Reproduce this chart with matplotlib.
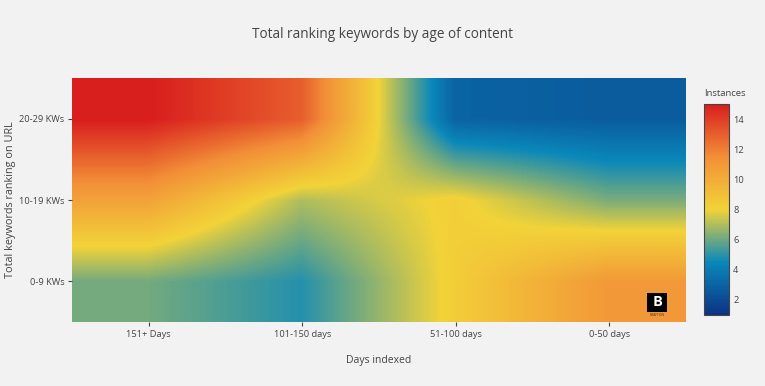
import matplotlib
matplotlib.use("Agg")
import matplotlib.pyplot as plt
import numpy as np
from matplotlib.colors import LinearSegmentedColormap
from matplotlib.patches import Rectangle

plt.rcParams['font.family'] = ['Open Sans', 'DejaVu Sans']

# columns: age of content, rows: keyword buckets (bottom to top)
dias = ["151+ Days", "101-150 days", "51-100 days", "0-50 days"]
kws = ["0-9 KWs", "10-19 KWs", "20-29 KWs"]
fila_0_9 = [6.1, 4.9, 8.3, 11.0]
fila_10_19 = [10.5, 7.0, 8.2, 6.2]
fila_20_29 = [15.0, 13.0, 3.0, 2.7]

z = np.array([fila_0_9, fila_10_19, fila_20_29])

# escala "Portland" de plotly
portland = LinearSegmentedColormap.from_list("portland", [
    (0.0, (12/255, 51/255, 131/255)),
    (0.25, (10/255, 136/255, 186/255)),
    (0.5, (242/255, 211/255, 56/255)),
    (0.75, (242/255, 143/255, 56/255)),
    (1.0, (217/255, 30/255, 30/255)),
])

gris = "#444444"
fondo = "#f2f2f2"

fig = plt.figure(figsize=(7.65, 3.86), dpi=100, facecolor=fondo)
ax = fig.add_axes([72/765, 1 - 322/386, 614/765, 244/386])
ax.set_facecolor(fondo)

im = ax.imshow(z, cmap=portland, vmin=1, vmax=15, origin="lower", aspect="auto",
               interpolation="bilinear", interpolation_stage="data",
               extent=(-0.5, len(dias) - 0.5, -0.5, len(kws) - 0.5))

ax.set_xticks(range(len(dias)))
ax.set_xticklabels(dias)
ax.set_yticks(range(len(kws)))
ax.set_yticklabels(kws)
ax.tick_params(colors=gris, labelsize=6.7, length=3, width=0.8, pad=2.5)
for s in ax.spines.values():
    s.set_visible(False)

ax.set_xlabel("Days indexed", color=gris, fontsize=7.5, labelpad=12)
fig.text(11/765, 1 - 200/386, "Total keywords ranking on URL", color=gris,
         fontsize=7.8, rotation=90, ha="center", va="center")
fig.text(0.5, 1 - 34/386, "Total ranking keywords by age of content", color=gris,
         fontsize=9.8, ha="center", va="center")

# barra de color
cax = fig.add_axes([704/765, 1 - 315/386, 25/765, 211/386])
cb = fig.colorbar(im, cax=cax, ticks=[2, 4, 6, 8, 10, 12, 14])
cb.outline.set_edgecolor("#444444")
cb.outline.set_linewidth(0.8)
cax.tick_params(colors=gris, labelsize=6.7, length=0, pad=3)
fig.text(725/765, 1 - 93/386, "Instances", color=gris, fontsize=6.8, ha="center", va="center")

# logo
ax.add_patch(Rectangle((0.9365, 0.041), 0.0325, 0.078, transform=ax.transAxes,
                       facecolor="black", edgecolor="none", zorder=3))
ax.text(0.953, 0.081, "B", transform=ax.transAxes, color="white", fontsize=10.5,
        fontweight="bold", ha="center", va="center", zorder=4)
ax.text(0.953, 0.030, "BRAFTON", transform=ax.transAxes, color="#333333", fontsize=2.3,
        ha="center", va="center", zorder=4)

fig.savefig("out.png", dpi=100, facecolor=fondo)
